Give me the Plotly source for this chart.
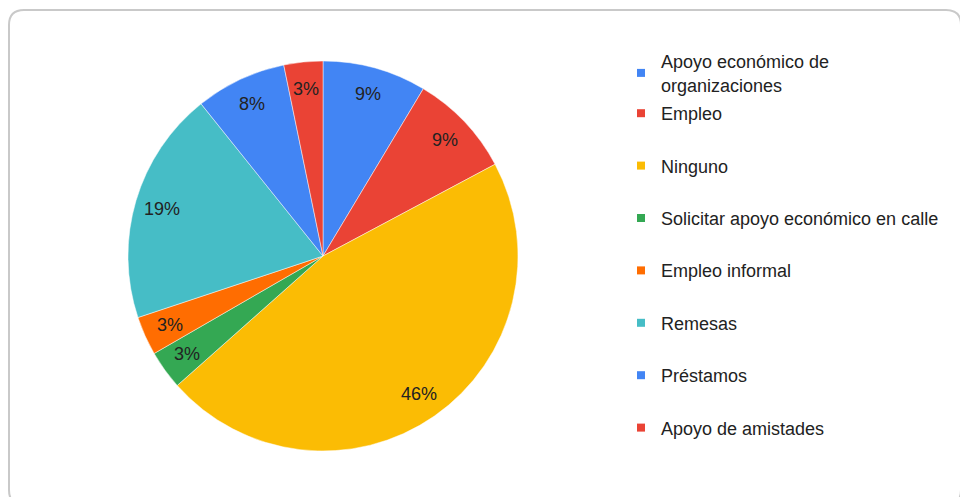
import math
import plotly.graph_objects as go

labels = ["Apoyo económico de organizaciones", "Empleo", "Ninguno",
          "Solicitar apoyo económico en calle", "Empleo informal", "Remesas",
          "Préstamos", "Apoyo de amistades"]
legend_labels = ["Apoyo económico de<br>organizaciones", "Empleo", "Ninguno",
                 "Solicitar apoyo económico en calle", "Empleo informal", "Remesas",
                 "Préstamos", "Apoyo de amistades"]
# response counts (shown as 9, 9, 46, 3, 3, 19, 8, 3 %)
values = [8, 8, 43, 3, 3, 18, 7, 3]
colors = ["#4285F4", "#EA4335", "#FBBC04", "#34A853", "#FF6D01", "#46BDC6",
          "#4285F4", "#EA4335"]

W, H = 960, 497
FONT = "Liberation Sans, Arial, sans-serif"
CX, CY, R = 323, 256, 195  # pie centre / radius in pixels (layout)
LABEL_R = 0.86             # label distance as fraction of radius

fig = go.Figure()
fig.add_trace(go.Pie(
    labels=labels, values=values, sort=False, direction="clockwise", rotation=0,
    marker=dict(colors=colors, line=dict(color="rgba(255,255,255,0.6)", width=0.8)),
    textinfo="none",
    showlegend=False, hoverinfo="label+percent",
    domain=dict(x=[(CX - R) / W, (CX + R) / W],
                y=[(H - CY - R) / H, (H - CY + R) / H]),
))

# percentage labels placed along each slice's mid-angle (derived from values)
total = sum(values)
annotations = []
cum = 0
for v in values:
    mid = (cum + v / 2) / total * 2 * math.pi
    cum += v
    px = CX + LABEL_R * R * math.sin(mid)
    py = CY - LABEL_R * R * math.cos(mid)
    annotations.append(dict(
        x=px / W, y=1 - py / H, xref="paper", yref="paper",
        text=f"{round(100 * v / total)}%", showarrow=False,
        xanchor="center", yanchor="middle",
        font=dict(family=FONT, size=18, color="#222222"),
    ))

for i, (lab, col) in enumerate(zip(legend_labels, colors)):
    fig.add_trace(go.Scatter(
        x=[None], y=[None], mode="markers", name=lab,
        marker=dict(symbol="square", size=8, color=col),
        legend="legend" if i == 0 else "legend2",
        legendgroup=f"g{i}", showlegend=True,
    ))

rx, ry = 15 / W, 15 / H
x0, x1 = 9 / W, 961 / W
y1, y0 = 1 - 10 / H, 1 - 505 / H
path = (f"M {x0+rx},{y1} L {x1-rx},{y1} Q {x1},{y1} {x1},{y1-ry} "
        f"L {x1},{y0+ry} Q {x1},{y0} {x1-rx},{y0} L {x0+rx},{y0} "
        f"Q {x0},{y0} {x0},{y0+ry} L {x0},{y1-ry} Q {x0},{y1} {x0+rx},{y1} Z")

legend_common = dict(
    font=dict(family=FONT, size=18, color="#222222"),
    bgcolor="rgba(0,0,0,0)", borderwidth=0, xanchor="left", yanchor="top",
    itemclick=False, itemdoubleclick=False,
)
fig.update_layout(
    width=W, height=H, margin=dict(l=0, r=0, t=0, b=0),
    paper_bgcolor="white", plot_bgcolor="white",
    xaxis=dict(visible=False), yaxis=dict(visible=False),
    shapes=[dict(type="path", path=path, xref="paper", yref="paper",
                 line=dict(color="#c9c9c9", width=2), layer="above")],
    annotations=annotations,
    legend=dict(x=621 / W, y=1 - 43 / H, **legend_common),
    legend2=dict(x=621 / W, y=1 - 95 / H, tracegroupgap=26, **legend_common),
)

fig.write_html("out.html", config={"displayModeBar": False},
               post_script="document.body.style.margin='0';"
               "document.body.style.overflow='hidden';")
